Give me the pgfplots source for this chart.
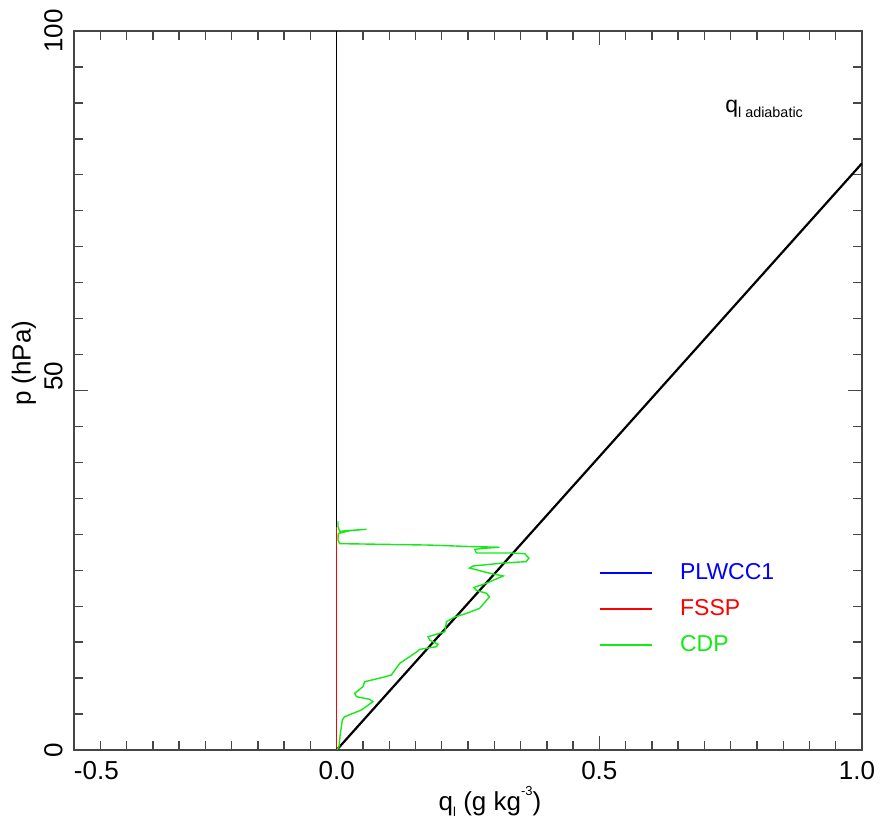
\documentclass[border=0pt]{standalone}
\usepackage{pgfplots}
\pgfplotsset{compat=1.18}
\usepackage{fontspec}
\setmainfont{Liberation Sans}
\definecolor{cdpgreen}{RGB}{20,235,20}
\definecolor{axgray}{RGB}{70,70,70}
\pgfplotstableread{
q p
0.0006 0.0
0.0044 0.46
0.007 2.3
0.0108 4.17
0.0152 4.64
0.047 5.56
0.069 6.72
0.063 7.05
0.0375 7.42
0.0343 7.88
0.050 8.81
0.0533 9.5
0.088 10.1
0.104 10.43
0.12 12.05
0.139 12.98
0.153 13.68
0.158 14.0
0.190 14.37
0.193 14.7
0.177 15.3
0.174 15.76
0.206 16.46
0.209 17.85
0.225 18.5
0.247 19.0
0.272 19.7
0.291 21.3
0.285 21.8
0.266 22.2
0.261 22.6
0.285 23.2
0.317 24.2
0.291 24.6
0.253 25.3
0.260 25.6
0.317 26.0
0.361 26.2
0.366 26.7
0.358 27.3
0.333 27.4
0.266 27.4
0.263 27.9
0.279 28.05
0.310 28.2
0.253 28.3
0.177 28.5
0.050 28.65
0.0057 28.7
0.0025 29.2
0.003 30.1
0.025 30.5
0.057 30.7
0.018 30.5
0.0057 30.4
0.0025 31.1
0.0025 31.8
}\cdp
\begin{document}
\begin{tikzpicture}
\begin{axis}[name=ax, scale only axis, width=394pt, height=359.5pt,
  xmin=-0.5, xmax=1.0, ymin=0, ymax=100,
  xtick={-0.5,0,0.5,1.0},
  xticklabels={\hphantom{-0.5}-0.5,0.0,0.5,1.0\rule{5pt}{0pt}},
  minor x tick num=9,
  ytick={0,50,100},
  yticklabels={0,\hphantom{50}50,100},
  minor y tick num=9,
  tick align=inside,
  major tick length=7pt, minor tick length=4.5pt,
  every tick/.style={axgray, line width=0.7pt},
  axis line style={axgray, line width=0.9pt},
  ticklabel style={font=\fontsize{13}{15}\selectfont},
  yticklabel style={rotate=90, anchor=south, inner sep=0pt, yshift=5.5pt},
  xticklabel style={anchor=north, inner sep=0pt, yshift=-5.5pt},
  xlabel={q\raisebox{-0.25em}{\fontsize{6.5}{7}\selectfont l} (g kg\raisebox{0.55em}{\fontsize{6.5}{7}\selectfont -3})},
  xlabel style={font=\fontsize{13}{15}\selectfont, xshift=11pt, yshift=0pt},
  ylabel={p (hPa)},
  ylabel style={font=\fontsize{13}{15}\selectfont, at={(ticklabel cs:0.538)}, yshift=0.5pt},
  legend style={draw=none, fill=none, at={(axis cs:0.487,19.6)}, anchor=west,
    font=\fontsize{11.5}{13}\selectfont, row sep=6pt, column sep=0pt,
    nodes={inner sep=0pt, text height=9pt, text depth=3pt, anchor=west}},
  legend cell align=left,
  /tikz/every odd column/.append style={column sep=14pt},
]
\addplot[black, line width=0.5pt, forget plot] coordinates {(0,0) (0,100)};
\addplot[red, line width=0.8pt, forget plot] coordinates {(0,0) (0,31)};
\addplot[black, line width=1.1pt, forget plot] coordinates {(0,0) (1,81.6)};
\addplot[cdpgreen, line width=0.7pt, forget plot] table[x=q, y=p] {\cdp};
\addlegendimage{legend image code/.code={\draw[blue, line width=0.6pt] (0pt,0pt) -- (26pt,0pt);}}
\addlegendentry{\textcolor{blue}{PLWCC1}}
\addlegendimage{legend image code/.code={\draw[red, line width=0.6pt] (0pt,0pt) -- (26pt,0pt);}}
\addlegendentry{\textcolor{red}{FSSP}}
\addlegendimage{legend image code/.code={\draw[cdpgreen, line width=0.6pt] (0pt,0pt) -- (26pt,0pt);}}
\addlegendentry{\textcolor{cdpgreen}{CDP}}
\node[anchor=base west, inner sep=0pt, font=\fontsize{11.5}{13}\selectfont] at (axis cs:0.739,88.6) {q\raisebox{-0.2em}{\fontsize{7.2}{8}\selectfont l adiabatic}};
\end{axis}
\pgfresetboundingbox
\path[use as bounding box] (ax.south west) ++(-37pt,-34.5pt) rectangle ([xshift=10pt,yshift=15.5pt]ax.north east);
\end{tikzpicture}
\end{document}
